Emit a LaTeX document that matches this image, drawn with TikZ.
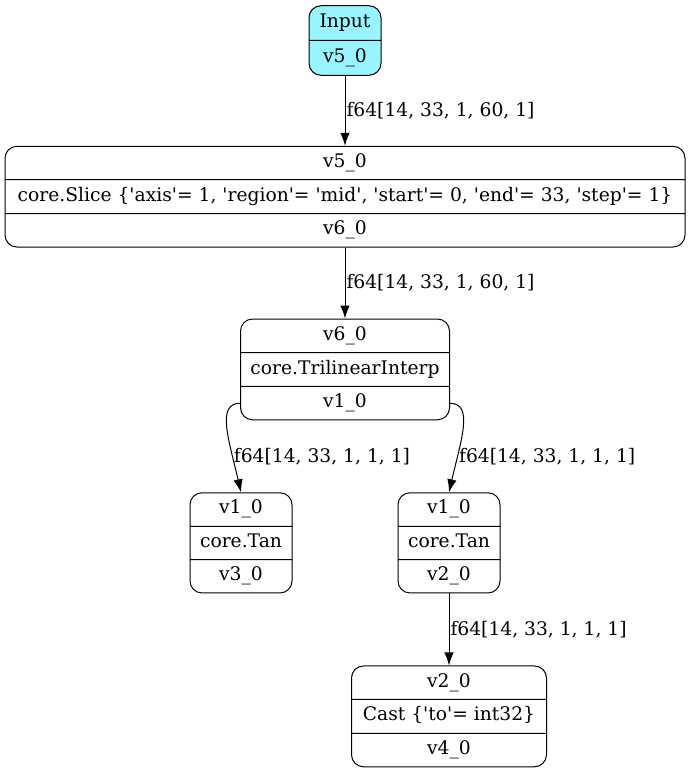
\documentclass[tikz,border=0pt]{standalone}
\usepackage{fontspec}
\setmainfont{DejaVu Serif}[Ligatures=TeXOff]
\usepackage{tikz}
\usetikzlibrary{shapes.multipart,arrows.meta,positioning,calc}
\definecolor{infill}{RGB}{152,245,255}
\newcommand{\fs}{\rule[-5pt]{0pt}{18.5pt}}
\tikzstyle{record} = [rectangle split, rectangle split parts=3, draw, line width=1pt, rounded corners=12pt, align=center, inner xsep=6pt, inner ysep=6.8pt, font=\fontsize{18.7}{22}\selectfont]
\tikzstyle{line} = [draw, line width=1pt, -{Latex[length=13pt,width=9.5pt]}]
\tikzstyle{dims} = [right, inner sep=1pt, font=\fontsize{18.7}{22}\selectfont]

\begin{document}
\begin{tikzpicture}[x=1pt, y=-1pt, node distance=72pt]
    \useasboundingbox (0,0) rectangle (690,774);
    \node [record, rectangle split parts=2, fill=infill, minimum width=72pt, inner ysep=7.5pt] (input) at (345,40.5) {\fs Input \nodepart{two} \fs v5\_0};
    \node [record, minimum width=680pt, below=70pt of input] (slice) {\fs v5\_0 \nodepart{two} \fs core.Slice \{'axis'= 1, 'region'= 'mid', 'start'= 0, 'end'= 33, 'step'= 1\} \nodepart{three} \fs v6\_0};
    \node [record, minimum width=209pt, below=71pt of slice] (trilinear) {\fs v6\_0 \nodepart{two} \fs core.TrilinearInterp \nodepart{three} \fs v1\_0};
    \node [record, minimum width=102pt, below=72pt of trilinear, xshift=-104pt] (tanA) {\fs v1\_0 \nodepart{two} \fs core.Tan \nodepart{three} \fs v3\_0};
    \node [record, minimum width=102pt, below=72pt of trilinear, xshift= 104pt] (tanB) {\fs v1\_0 \nodepart{two} \fs core.Tan \nodepart{three} \fs v2\_0};
    \node [record, minimum width=195pt, below=72pt of tanB] (cast) {\fs v2\_0 \nodepart{two} \fs Cast \{'to'= int32\} \nodepart{three} \fs v4\_0};

    % ports on the output field of the interpolation
    \coordinate (triL) at ($(trilinear.south west)!0.5!(trilinear.two split west)$);
    \coordinate (triR) at ($(trilinear.south east)!0.5!(trilinear.two split east)$);

    \path [line] (input) -- node [dims] {f64[14, 33, 1, 60, 1]} (slice);
    \path [line] (slice) -- node [dims] {f64[14, 33, 1, 60, 1]} (trilinear);
    \path [line] (triL) .. controls +(-24,0) and +(-12,-52) .. node [dims, pos=0.75] {f64[14, 33, 1, 1, 1]} (tanA.north);
    \path [line] (triR) .. controls +(24,0) and +(12,-52) .. node [dims, pos=0.75] {f64[14, 33, 1, 1, 1]} (tanB.north);
    \path [line] (tanB) -- node [dims] {f64[14, 33, 1, 1, 1]} (cast);
\end{tikzpicture}
\end{document}
